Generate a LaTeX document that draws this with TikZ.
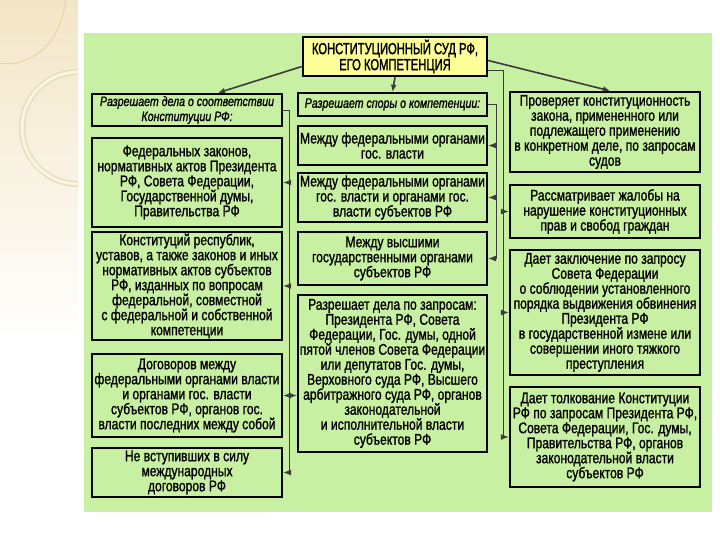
\documentclass[tikz,border=0pt]{standalone}
\usepackage{fontspec}
\setmainfont[FakeStretch=0.78, FakeBold=1.2]{Liberation Sans}
\newfontfamily\titlefont[FakeStretch=0.7, FakeBold=1.5]{Liberation Sans}
\usetikzlibrary{positioning, arrows.meta}
\definecolor{slideGreen}{HTML}{C8F0A2}
\definecolor{titleYellow}{HTML}{FFFF99}
\definecolor{lineGray}{HTML}{3C3C3C}
\definecolor{beigeDeco}{HTML}{F3E6C6}
\definecolor{beigeLine}{HTML}{E6D3A6}

\begin{document}
\begin{tikzpicture}[
    x=1pt, y=-1pt,
    box/.style={draw=black, line width=2.4pt, fill=slideGreen,
                align=center, inner sep=1pt,
                font=\fontsize{15.5}{15}\selectfont},
    colbox/.style={box, minimum width=190pt},
    title/.style={box, fill=titleYellow, minimum width=184pt,
                  minimum height=39pt, font=\titlefont\fontsize{16}{16}\selectfont},
    headbox/.style={colbox, font=\fontsize{13.6}{15}\selectfont\itshape},
    bigarr/.style={-{Latex[length=7pt, width=6pt]}, line width=1.6pt, draw=lineGray},
    bus/.style={line width=0.9pt, draw=lineGray},
    tip/.style={-{Latex[length=8pt, width=6pt]}, line width=0.9pt,
                draw=lineGray, fill=lineGray!60},
  ]
    % slide background
    \useasboundingbox (0,0) rectangle (720,540);
    \fill[white] (0,0) rectangle (720,540);
    \shade[top color=beigeDeco, bottom color=white] (0,0) rectangle (78,340);
    \begin{scope}
      \clip (0,0) rectangle (78,340);
      \draw[beigeLine, line width=1pt] (66,0) .. controls (60,40) and (40,60) .. (10,64);
      \draw[beigeLine, line width=1pt] (0,64) -- (12,64);
      \draw[beigeLine!80, line width=6pt] (78,128) circle[radius=56];
      \draw[white!60!beigeDeco, line width=3pt] (78,128) circle[radius=56];
    \end{scope}
    \fill[slideGreen] (84,33) rectangle (712,512);

    % title
    \node[title] (court) at (395,56.5) {КОНСТИТУЦИОННЫЙ СУД РФ,\\ЕГО КОМПЕТЕНЦИЯ};

    % left column
    \node[headbox, minimum height=32pt] (conform) at (187,110)
      {Разрешает дела о соответствии\\Конституции РФ:};
    \node[colbox, minimum height=89pt] (fedLaws) at (187,182.5)
      {Федеральных законов,\\нормативных актов Президента\\РФ, Совета Федерации,\\Государственной думы,\\Правительства РФ};
    \node[colbox, minimum height=108pt] (regLaws) at (187,286)
      {Конституций республик,\\уставов, а также законов и иных\\нормативных актов субъектов\\РФ, изданных по вопросам\\федеральной, совместной\\с федеральной и собственной\\компетенции};
    \node[colbox, minimum height=83pt] (treaties) at (187,395.5)
      {Договоров между\\федеральными органами власти\\и органами гос. власти\\субъектов РФ, органов гос.\\власти последних между собой};
    \node[colbox, minimum height=49pt] (intl) at (187,472.5)
      {Не вступивших в силу\\международных\\договоров РФ};

    % middle column
    \node[headbox, minimum width=189pt, minimum height=23pt] (disputes) at (392.5,104.5)
      {Разрешает споры о компетенции:};
    \node[colbox, minimum width=189pt, minimum height=39pt] (fedFed) at (392.5,145.5)
      {Между федеральными органами\\гос. власти};
    \node[colbox, minimum width=189pt, minimum height=49pt] (fedReg) at (392.5,197.5)
      {Между федеральными органами\\гос. власти и органами гос.\\власти субъектов РФ};
    \node[colbox, minimum width=189pt, minimum height=53pt] (regReg) at (392.5,258.5)
      {Между высшими\\государственными органами\\субъектов РФ};
    \node[colbox, minimum width=189pt, minimum height=157pt] (requests) at (392.5,373.5)
      {Разрешает дела по запросам:\\Президента РФ, Совета\\Федерации, Гос. думы, одной\\пятой членов Совета Федерации\\или депутатов Гос. думы,\\Верховного суда РФ, Высшего\\арбитражного суда РФ, органов\\законодательной\\и исполнительной власти\\субъектов РФ};

    % right column
    \node[colbox, minimum height=80pt] (review) at (605,132)
      {Проверяет конституционность\\закона, примененного или\\подлежащего применению\\в конкретном деле, по запросам\\судов};
    \node[colbox, minimum height=53pt] (complaints) at (605,211.5)
      {Рассматривает жалобы на\\нарушение конституционных\\прав и свобод граждан};
    \node[colbox, minimum height=125pt] (impeach) at (605,312.5)
      {Дает заключение по запросу\\Совета Федерации\\о соблюдении установленного\\порядка выдвижения обвинения\\Президента РФ\\в государственной измене или\\совершении иного тяжкого\\преступления};
    \node[colbox, minimum height=100pt] (interp) at (605,437)
      {Дает толкование Конституции\\РФ по запросам Президента РФ,\\Совета Федерации, Гос. думы,\\Правительства РФ, органов\\законодательной власти\\субъектов РФ};

    % bus lines
    \coordinate (leftBus) at (289,0);
    \coordinate (midBus)  at (496,0);
    \coordinate (rightBus) at (503,0);

    % arrows from the title
    \draw[bigarr] ([yshift=-10pt]court.west) -- ([xshift=31pt]conform.north);
    \draw[bigarr] (court.south) -- (disputes.north);
    \draw[bigarr] ([yshift=-4pt]court.east) -- ([xshift=5pt]review.north);

    % left bus
    \draw[bus] (conform.east) -- (conform.east -| leftBus) -- (intl.east -| leftBus);
    \foreach \n in {fedLaws, regLaws, treaties, intl}
      \draw[tip] (\n.east -| leftBus) -- (\n.east);
    \draw[tip] (treaties.east -| leftBus) -- (treaties.east -| requests.west);

    % middle bus
    \draw[bus] (disputes.east) -- (disputes.east -| midBus) -- (regReg.east -| midBus);
    \foreach \n in {fedFed, fedReg, regReg}
      \draw[tip] (\n.east -| midBus) -- (\n.east);

    % right bus
    \draw[bus] ([yshift=-13.5pt]court.east) -| (interp.west -| rightBus);
    \foreach \n in {complaints, impeach, interp}
      \draw[tip] (\n.west -| rightBus) -- (\n.west);
  \end{tikzpicture}
\end{document}
